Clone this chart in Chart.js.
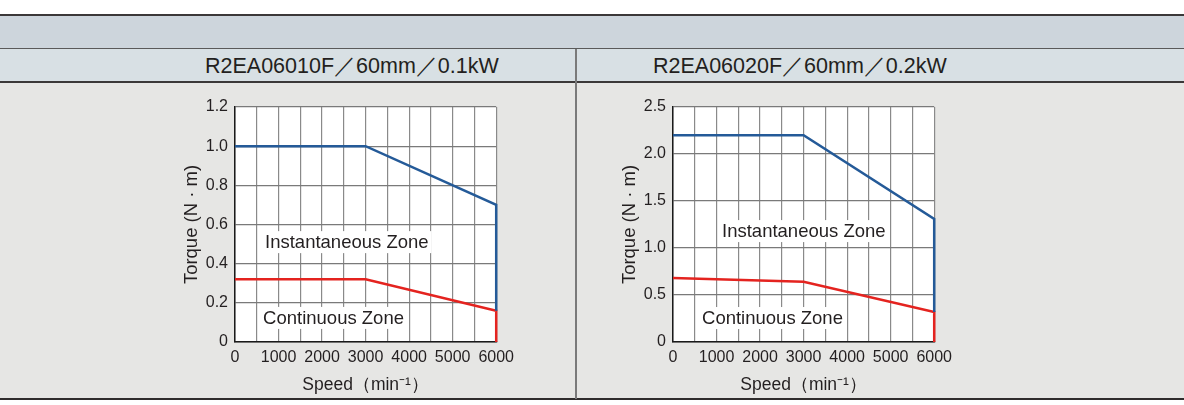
<!DOCTYPE html>
<html>
<head>
<meta charset="utf-8">
<script src="https://cdn.jsdelivr.net/npm/chart.js@4.4.1/dist/chart.umd.min.js"></script>
<style>
  body { margin: 0; width: 1184px; height: 405px; background: #fff; position: relative; overflow: hidden;
         font-family: "Liberation Sans", Arial, sans-serif; color: #231f20; }
  .line { position: absolute; left: 0; width: 1184px; }
  #band1 { top: 14px; height: 32px; border-top: 2px solid #3b3838; border-bottom: 1px solid #5a5a5a; background: #cdd5dc; }
  #band2 { top: 49px; height: 32px; border-bottom: 2px solid #3b3838; background: #d8e0e4; }
  #body  { top: 83px; height: 315px; border-bottom: 2px solid #2f2c2c; background: #e6e6e4; }
  #divider { position: absolute; left: 575px; top: 49px; width: 2px; height: 350px; background: #7a7a7a; }
  .title { position: absolute; top: 53px; height: 26px; line-height: 26px; font-size: 21.5px; white-space: nowrap; }
  .cv { position: absolute; top: 88px; width: 350px; height: 308px; }
</style>
</head>
<body>
<div class="line" id="band1"></div>
<div class="line" id="band2"></div>
<div class="line" id="body"></div>
<div id="divider"></div>
<div class="title" id="t1" style="left:205px">R2EA06010F／60mm／0.1kW</div>
<div class="title" id="t2" style="left:653px">R2EA06020F／60mm／0.2kW</div>
<div class="cv" style="left:170px"><canvas id="chartA"></canvas></div>
<div class="cv" style="left:608px"><canvas id="chartB"></canvas></div>

<script>
// vitesses des points de la courbe (min-1)
const speedPoints = [0, 3000, 6000, 6000];

// R2EA06010F : 0.1kW
const peakTorqueA = [1.0, 1.0, 0.7, 0.16];
const contTorqueA = [0.32, 0.32, 0.16, 0];
const yMaxA = 1.2, yStepA = 0.2;

// R2EA06020F : 0.2kW
const peakTorqueB = [2.2, 2.2, 1.31, 0.32];
const contTorqueB = [0.68, 0.64, 0.32, 0];
const yMaxB = 2.5, yStepB = 0.5;

const xTickLabels = ["0", "1000", "2000", "3000", "4000", "5000", "6000"];

const zoneNames = ["Instantaneous Zone", "Continuous Zone"];

const mainFont = '"Liberation Sans", Arial, sans-serif';

function toPoints(xs, ys) {
  return xs.map((x, i) => ({ x: x, y: ys[i] }));
}

// fond blanc + etiquettes de zones
const plotDecor = {
  id: "plotDecor",
  beforeDraw(chart) {
    const a = chart.chartArea;
    const ctx = chart.ctx;
    ctx.save();
    ctx.fillStyle = "#ffffff";
    ctx.fillRect(a.left, a.top, a.right - a.left, a.bottom - a.top);
    ctx.restore();
  },
  beforeDatasetsDraw(chart, args, opts) {
    const ctx = chart.ctx;
    const xs = chart.scales.x, ys = chart.scales.y;
    ctx.save();
    ctx.font = "18.5px " + mainFont;
    ctx.textBaseline = "middle";
    (opts.labels || []).forEach(lb => {
      const px = xs.getPixelForValue(lb.x);
      const py = ys.getPixelForValue(lb.y);
      const w = ctx.measureText(lb.text).width;
      ctx.fillStyle = "#ffffff";
      ctx.fillRect(px - 3, py - 11, w + 6, 22);
      ctx.fillStyle = "#231f20";
      ctx.fillText(lb.text, px, py + 1);
    });
    ctx.restore();
  }
};

function makeChart(id, peak, cont, yMax, yStep, labels) {
  const ctx = document.getElementById(id).getContext("2d");
  return new Chart(ctx, {
    type: "line",
    data: {
      datasets: [
        {
          data: toPoints(speedPoints, peak),
          borderColor: "#245a98",
          borderWidth: 2.5,
          pointRadius: 0,
          tension: 0,
          clip: false,
          fill: false
        },
        {
          data: toPoints(speedPoints, cont),
          borderColor: "#e4231f",
          borderWidth: 2.5,
          pointRadius: 0,
          tension: 0,
          clip: false,
          fill: false
        }
      ]
    },
    options: {
      responsive: true,
      maintainAspectRatio: false,
      animation: false,
      layout: { padding: { top: 19, right: 13, left: 0, bottom: 0 } },
      plugins: {
        legend: { display: false },
        tooltip: { enabled: false },
        plotDecor: { labels: labels }
      },
      scales: {
        x: {
          type: "linear",
          min: 0,
          max: 6000,
          afterFit: s => { s.height = 54; },
          border: { color: "#1a1a1a", width: 1.5 },
          grid: { color: "#8a8a8a", lineWidth: 1.2, drawTicks: false },
          ticks: {
            stepSize: 500,
            autoSkip: false,
            maxRotation: 0,
            padding: 6,
            color: "#231f20",
            font: { family: mainFont, size: 16 },
            callback: v => (v % 1000 === 0 ? xTickLabels[v / 1000] : "")
          },
          title: {
            display: true,
            text: "Speed（min⁻¹）",
            color: "#231f20",
            font: { family: mainFont, size: 17.5 },
            padding: { top: 2, bottom: 0 }
          }
        },
        y: {
          min: 0,
          max: yMax,
          afterFit: s => { s.width = 65; },
          border: { color: "#1a1a1a", width: 1.5 },
          grid: { color: "#7a7a7a", lineWidth: 1.2, drawTicks: false },
          ticks: {
            stepSize: yStep,
            padding: 7,
            color: "#231f20",
            font: { family: mainFont, size: 16 },
            callback: v => (v === 0 ? "0" : v.toFixed(1))
          },
          title: {
            display: true,
            text: "Torque (N · m)",
            color: "#231f20",
            font: { family: mainFont, size: 18.5 },
            padding: { top: 11, bottom: 0 }
          }
        }
      }
    },
    plugins: [plotDecor]
  });
}

makeChart("chartA", peakTorqueA, contTorqueA, yMaxA, yStepA, [
  { text: zoneNames[0], x: 690, y: 0.51 },
  { text: zoneNames[1], x: 645, y: 0.123 }
]);
makeChart("chartB", peakTorqueB, contTorqueB, yMaxB, yStepB, [
  { text: zoneNames[0], x: 1126, y: 1.18 },
  { text: zoneNames[1], x: 667, y: 0.255 }
]);
</script>
</body>
</html>
